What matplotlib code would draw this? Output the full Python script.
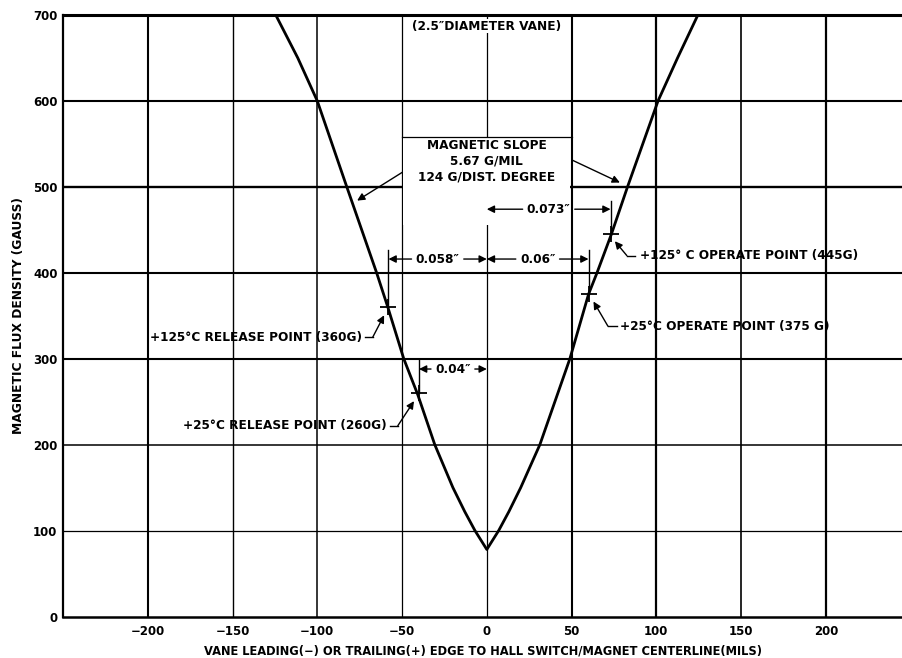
import matplotlib
matplotlib.use("Agg")
import matplotlib.pyplot as plt
from matplotlib.patches import Rectangle

# ---- data ----
curve_mils = [-124.5, -111.5, -100, -82.6, -65, -58.4, -49, -40.7, -30.7, -20, -13, -7, 0,
              7, 13, 20, 31.3, 49, 60, 65, 73.5, 83, 101, 112.5, 124.5]
curve_gauss = [700, 650, 600, 500, 400, 360, 300, 258, 200, 150, 122, 100, 78,
               100, 122, 150, 200, 300, 375, 400, 445, 500, 600, 650, 700]

point_mils = [-58, -40, 60, 73]          # release / operate points
point_gauss = [360, 260, 375, 445]
point_labels = ["+125°C RELEASE POINT (360G)", "+25°C RELEASE POINT (260G)",
                "+25°C OPERATE POINT (375 G)", "+125° C OPERATE POINT (445G)"]
dim_labels = ["0.058″", "0.04″", "0.06″", "0.073″"]
dim_levels = [416, 288, 416, 474]

x_ticks = [-200, -150, -100, -50, 0, 50, 100, 150, 200]
y_ticks = [0, 100, 200, 300, 400, 500, 600, 700]

FONT = ["DejaVu Sans"]
plt.rcParams["font.family"] = FONT
plt.rcParams["font.weight"] = "bold"

fig = plt.figure(figsize=(9.03, 6.58), dpi=100)
ax = fig.add_axes([63 / 903, (658 - 616.5) / 658, 840 / 903, 601.5 / 658])
ax.set_xlim(-250, 245.5)
ax.set_ylim(0, 700)

# spines
ax.spines["right"].set_visible(False)
ax.spines["top"].set_linewidth(2.2)
ax.spines["left"].set_linewidth(1.6)
ax.spines["bottom"].set_linewidth(1.8)

# grid (manual, varying weights like the scan)
vw = {-200: 1.5, -150: 1.0, -100: 1.1, -50: 0.9, 0: 0.9, 50: 1.5, 100: 1.6, 150: 1.2, 200: 1.6}
hw = {100: 0.9, 200: 1.1, 300: 1.5, 400: 1.5, 500: 1.7, 600: 1.5}
for xv in x_ticks:
    ax.axvline(xv, color="black", lw=vw[xv], zorder=1)
for yv in y_ticks[1:-1]:
    ax.axhline(yv, color="black", lw=hw[yv], zorder=1)

ax.set_xticks(x_ticks)
ax.set_xticklabels([("−" + str(-v)) if v < 0 else str(v) for v in x_ticks])
ax.set_yticks(y_ticks)
ax.tick_params(length=0, labelsize=8.5)
ax.tick_params(axis="x", pad=6)
ax.tick_params(axis="y", pad=4)
for lab in ax.get_xticklabels() + ax.get_yticklabels():
    lab.set_fontweight("bold")

ax.set_ylabel("MAGNETIC FLUX DENSITY (GAUSS)", fontsize=8.8, fontweight="bold")
ax.yaxis.set_label_coords(-0.045, 0.5)
ax.set_xlabel("VANE LEADING(−) OR TRAILING(+) EDGE TO HALL SWITCH/MAGNET CENTERLINE(MILS)",
              fontsize=8.3, fontweight="bold", labelpad=5)

# white note box covering the grid
ax.add_patch(Rectangle((-49.3, 456), 98.6, 102, facecolor="white", edgecolor="none", zorder=1.5))
ax.plot([-50, 50], [558, 558], color="black", lw=0.9, zorder=2)

fs = 8.7
ax.text(0, 687, "(2.5″DIAMETER VANE)", ha="center", va="center", fontsize=fs,
        fontweight="bold", zorder=3, bbox=dict(facecolor="white", edgecolor="none", pad=0.5))
ax.text(0, 548, "MAGNETIC SLOPE", ha="center", va="center", fontsize=fs, fontweight="bold", zorder=3)
ax.text(0, 530, "5.67 G/MIL", ha="center", va="center", fontsize=fs, fontweight="bold", zorder=3)
ax.text(0, 512, "124 G/DIST. DEGREE", ha="center", va="center", fontsize=fs, fontweight="bold", zorder=3)

aprops = dict(arrowstyle="-|>", color="black", lw=1.0, mutation_scale=11, shrinkA=0, shrinkB=0)
ax.annotate("", xy=(-76.5, 484), xytext=(-49.8, 517), arrowprops=aprops, zorder=4)
ax.annotate("", xy=(78.5, 505), xytext=(50.5, 531), arrowprops=aprops, zorder=4)

# the curve
ax.plot(curve_mils, curve_gauss, color="black", lw=2.0, zorder=5, solid_joinstyle="round")

# points and extension lines
ax.plot(point_mils, point_gauss, linestyle="none", marker="+", ms=11, mew=1.3, color="black", zorder=6)
for xm, yg, yl in zip(point_mils, point_gauss, dim_levels):
    ax.plot([xm, xm], [yg, yl + 10], color="black", lw=1.0, zorder=4)

# dimension arrows
dprops = dict(arrowstyle="-|>", color="black", lw=1.0, mutation_scale=11, shrinkA=1, shrinkB=0)
for xm, lab, yl in zip(point_mils, dim_labels, dim_levels):
    xc = xm / 2
    ax.annotate(lab, xy=(xm, yl), xytext=(xc, yl), ha="center", va="center", fontsize=fs,
                fontweight="bold", arrowprops=dprops, zorder=6)
    ax.annotate(lab, xy=(0, yl), xytext=(xc, yl), ha="center", va="center", fontsize=fs,
                fontweight="bold", color="none", arrowprops=dprops, zorder=6)

# point labels with leaders
lprops = dict(arrowstyle="-|>", color="black", lw=1.0, mutation_scale=11, shrinkA=0, shrinkB=1)
# (text_x, text_y, ha, elbow_start_x, elbow_x, elbow_y, tip_x, tip_y)
label_layout = [
    (-73.7, 325, "right", -72.0, -67.3, 325, -60.2, 352),
    (-59.0, 222, "right", -57.2, -52.5, 222, -42.5, 252),
    (78.5, 338, "left", 76.7, 71.4, 338, 62.5, 368),
    (90.3, 420, "left", 87.3, 82.6, 420, 75.0, 438),
]
for lab, (tx, ty, ha, ex0, ex, ey, px, py) in zip(point_labels, label_layout):
    ax.text(tx, ty, lab, ha=ha, va="center", fontsize=fs, fontweight="bold", zorder=6)
    ax.plot([ex0, ex], [ey, ey], color="black", lw=1.0, zorder=6)
    ax.annotate("", xy=(px, py), xytext=(ex, ey), arrowprops=lprops, zorder=6)

fig.savefig("out.png", dpi=100)
